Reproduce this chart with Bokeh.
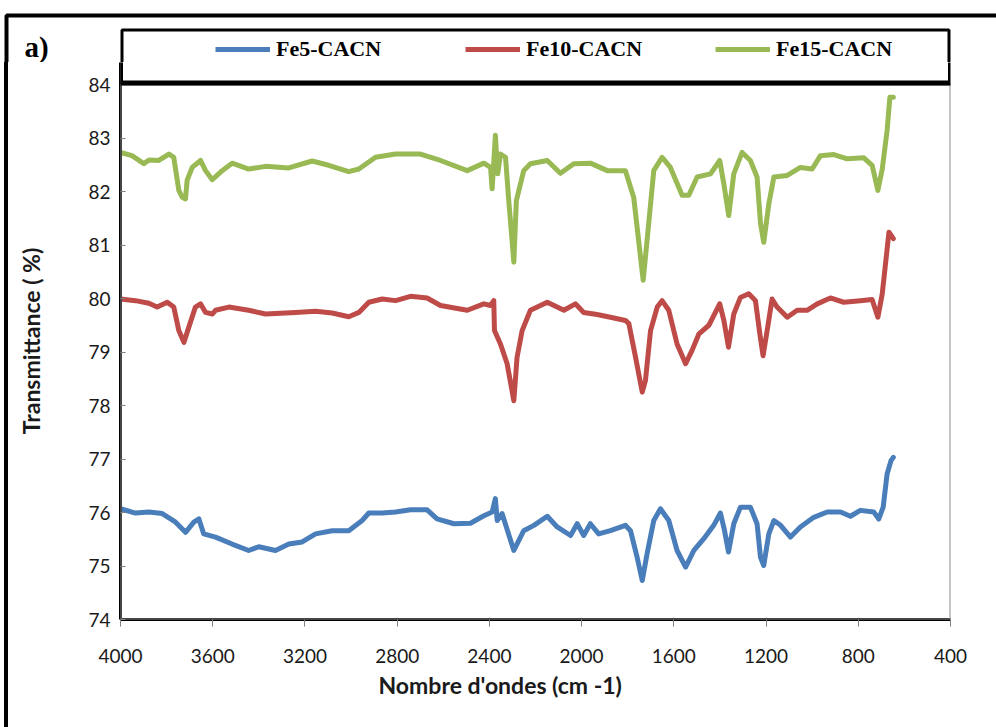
from bokeh.plotting import figure
from bokeh.layouts import column, row
from bokeh.models import (Legend, LegendItem, Label, BoxAnnotation, FixedTicker, Range1d,
                          Title, Spacer)
from bokeh.embed import file_html
from bokeh.resources import INLINE

# FTIR transmittance spectra (wavenumber in cm-1, transmittance in %)
wn_fe5 = [4000, 3935, 3877, 3819, 3761, 3718, 3682, 3660, 3639, 3588, 3516, 3444, 3400,
          3328, 3270, 3212, 3154, 3082, 3010, 2952, 2923, 2865, 2807, 2742, 2670, 2627,
          2554, 2482, 2424, 2388, 2374, 2366, 2345, 2294, 2251, 2207, 2149, 2106, 2048,
          2019, 1991, 1962, 1926, 1875, 1810, 1788, 1759, 1737, 1716, 1687, 1658, 1622,
          1586, 1549, 1513, 1470, 1427, 1398, 1380, 1363, 1340, 1311, 1268, 1239, 1224,
          1210, 1188, 1166, 1137, 1094, 1051, 993, 935, 877, 834, 791, 733, 711, 692,
          675, 658, 648]
t_fe5 = [76.07, 75.99, 76.01, 75.98, 75.82, 75.63, 75.82, 75.88, 75.60, 75.54, 75.41,
         75.29, 75.36, 75.29, 75.41, 75.45, 75.60, 75.66, 75.66, 75.85, 75.99, 75.99,
         76.01, 76.05, 76.05, 75.88, 75.79, 75.80, 75.94, 76.01, 76.26, 75.85, 75.98,
         75.29, 75.66, 75.76, 75.93, 75.73, 75.57, 75.79, 75.57, 75.79, 75.60, 75.66,
         75.76, 75.66, 75.16, 74.73, 75.23, 75.85, 76.07, 75.85, 75.29, 74.98, 75.29,
         75.51, 75.76, 75.99, 75.66, 75.26, 75.79, 76.10, 76.10, 75.79, 75.16, 75.01,
         75.60, 75.85, 75.76, 75.54, 75.73, 75.91, 76.01, 76.01, 75.93, 76.04, 76.01,
         75.88, 76.10, 76.72, 76.97, 77.03]

wn_fe10 = [4000, 3935, 3877, 3841, 3797, 3769, 3747, 3725, 3704, 3675, 3653, 3631, 3602,
           3588, 3530, 3444, 3371, 3241, 3154, 3082, 3010, 2966, 2923, 2865, 2807, 2742,
           2670, 2612, 2496, 2424, 2395, 2381, 2378, 2352, 2323, 2294, 2280, 2258, 2222,
           2149, 2077, 2027, 1991, 1933, 1875, 1810, 1795, 1766, 1737, 1723, 1701, 1672,
           1651, 1622, 1586, 1549, 1521, 1491, 1448, 1401, 1383, 1363, 1340, 1311, 1275,
           1246, 1227, 1213, 1193, 1174, 1152, 1108, 1065, 1022, 978, 921, 863, 791, 740,
           715, 696, 677, 667, 648]
t_fe10 = [79.99, 79.96, 79.91, 79.84, 79.93, 79.84, 79.40, 79.18, 79.46, 79.84, 79.90,
          79.74, 79.71, 79.78, 79.84, 79.78, 79.71, 79.74, 79.76, 79.73, 79.66, 79.74,
          79.93, 79.99, 79.96, 80.04, 80.01, 79.87, 79.78, 79.90, 79.87, 79.96, 79.40,
          79.15, 78.78, 78.09, 78.90, 79.40, 79.78, 79.93, 79.78, 79.90, 79.74, 79.70,
          79.65, 79.59, 79.53, 78.90, 78.25, 78.47, 79.40, 79.84, 79.96, 79.78, 79.15,
          78.78, 79.03, 79.34, 79.50, 79.90, 79.59, 79.09, 79.71, 80.02, 80.09, 79.96,
          79.34, 78.93, 79.46, 79.99, 79.84, 79.65, 79.78, 79.78, 79.90, 80.01, 79.93,
          79.96, 79.98, 79.65, 80.09, 80.84, 81.24, 81.12]

wn_fe15 = [4000, 3950, 3899, 3877, 3834, 3790, 3769, 3747, 3732, 3718, 3711, 3689, 3653,
           3631, 3602, 3559, 3516, 3444, 3371, 3270, 3169, 3097, 3010, 2966, 2894, 2807,
           2699, 2612, 2496, 2424, 2395, 2388, 2374, 2364, 2352, 2330, 2316, 2294, 2283,
           2251, 2222, 2149, 2092, 2034, 1962, 1889, 1810, 1774, 1733, 1709, 1687, 1651,
           1615, 1564, 1535, 1499, 1441, 1401, 1383, 1362, 1340, 1304, 1268, 1239, 1224,
           1210, 1188, 1166, 1108, 1051, 1000, 964, 906, 848, 776, 740, 715, 696, 675,
           663, 648]
t_fe15 = [82.73, 82.67, 82.52, 82.59, 82.58, 82.70, 82.64, 82.02, 81.89, 81.86, 82.21,
          82.45, 82.58, 82.39, 82.22, 82.39, 82.53, 82.42, 82.47, 82.44, 82.57, 82.49,
          82.37, 82.42, 82.64, 82.70, 82.70, 82.58, 82.39, 82.53, 82.45, 82.05, 83.05,
          82.33, 82.70, 82.64, 81.83, 80.68, 81.83, 82.39, 82.52, 82.58, 82.34, 82.52,
          82.53, 82.39, 82.39, 81.89, 80.34, 81.40, 82.39, 82.64, 82.45, 81.93, 81.93,
          82.27, 82.33, 82.58, 82.14, 81.55, 82.33, 82.73, 82.58, 82.27, 81.40, 81.05,
          81.77, 82.27, 82.30, 82.45, 82.42, 82.67, 82.69, 82.61, 82.63, 82.49, 82.02,
          82.42, 83.14, 83.76, 83.76]

series_names = ["Fe5-CACN", "Fe10-CACN", "Fe15-CACN"]
series_colors = ["#4A7EBB", "#BE4B48", "#98B954"]

x_ticks = [4000, 3600, 3200, 2800, 2400, 2000, 1600, 1200, 800, 400]
y_ticks = [74, 75, 76, 77, 78, 79, 80, 81, 82, 83, 84]

TICK_FONT = "Lato"
TITLE_FONT = "Lato"
SERIF = "Liberation Serif"
LINE_W = 5

# page geometry (pixels)
PAGE_W, PAGE_H = 996, 727
HEADER_H = 62                      # band holding the panel tag and the key
FRAME_LEFT, FRAME_RIGHT = 120, 950
FRAME_BOTTOM = 619
BAR_X0, BAR_X1 = 4, 8              # left rule of the panel border
RULE_Y = 15                        # centre of the top rule of the panel border
Y_MIN, Y_MAX = 74, 84
PX_PER_UNIT = (FRAME_BOTTOM - 84) / (Y_MAX - Y_MIN)       # 84 % sits at y=84 px
Y_TOP = Y_MIN + (FRAME_BOTTOM - HEADER_H) / PX_PER_UNIT   # frame runs up to the header


def box(**kw):
    base = dict(fill_alpha=1, line_alpha=1)
    base.update(kw)
    return BoxAnnotation(**base)


# ---- header band: border rules, panel tag, key -------------------------------
header = figure(width=PAGE_W, height=HEADER_H, output_backend="svg", toolbar_location=None,
                x_range=Range1d(0, PAGE_W), y_range=Range1d(HEADER_H, 0),
                x_axis_type=None, y_axis_type=None, min_border=0)
header.outline_line_color = None
header.background_fill_color = "white"
header.border_fill_color = "white"

# panel border: only its top and left sides fall inside the page
header.add_layout(box(left=(BAR_X0 + BAR_X1) / 2, right=PAGE_W * 2, top=RULE_Y,
                      bottom=HEADER_H * 3, fill_alpha=0,
                      line_color="black", line_width=BAR_X1 - BAR_X0))
header.add_layout(box(left=FRAME_LEFT + 1.5, right=FRAME_RIGHT - 1.5, top=29.5,
                      bottom=HEADER_H + 20, fill_color="white",
                      line_color="black", line_width=3))
header.add_layout(Label(x=24, y=46, text="a)", text_font=SERIF, text_font_style="bold",
                        text_font_size="29px", text_color="black",
                        text_align="left", text_baseline="middle"))

key_glyphs = [header.line([float("nan")], [float("nan")], line_color=c, line_width=LINE_W)
              for c in series_colors]
legend = Legend(items=[LegendItem(label=n, renderers=[r]) for n, r in zip(series_names, key_glyphs)],
                orientation="horizontal", location=(215, 0),
                border_line_alpha=0, background_fill_alpha=0,
                padding=0, margin=0, spacing=69,
                glyph_width=55, glyph_height=22, label_height=22, label_width=120,
                label_standoff=6, label_text_font=SERIF, label_text_font_style="bold",
                label_text_font_size="22px", label_text_color="black")
header.add_layout(legend, "center")

# ---- main chart ---------------------------------------------------------------
chart_w = PAGE_W - BAR_X1
chart_h = PAGE_H - HEADER_H
p = figure(width=chart_w, height=chart_h, output_backend="svg", toolbar_location=None,
           x_range=Range1d(4000, 400), y_range=Range1d(Y_MIN, Y_TOP),
           min_border_left=FRAME_LEFT - BAR_X1, min_border_right=PAGE_W - FRAME_RIGHT,
           min_border_top=0, min_border_bottom=PAGE_H - FRAME_BOTTOM)
p.background_fill_color = "white"
p.border_fill_color = "white"
p.outline_line_color = None
p.xgrid.grid_line_color = None
p.ygrid.grid_line_color = None

p.xaxis.ticker = FixedTicker(ticks=x_ticks)
p.yaxis.ticker = FixedTicker(ticks=y_ticks)
for ax in (p.xaxis[0], p.yaxis[0]):
    ax.axis_line_color = "black"
    ax.axis_line_width = 3
    ax.major_tick_line_color = "#7f7f7f"
    ax.major_tick_line_width = 1
    ax.minor_tick_line_color = None
    ax.major_label_text_font = TICK_FONT
    ax.major_label_text_font_size = "19px"
    ax.major_label_text_color = "#1a1a1a"
p.xaxis.major_tick_out = 7
p.xaxis.major_tick_in = 0
p.xaxis.major_label_standoff = 22
p.yaxis.major_tick_out = 0
p.yaxis.major_tick_in = 5
p.yaxis.major_label_standoff = 10

p.yaxis.axis_label = "Transmittance ( %)"
p.yaxis.axis_label_text_font = TITLE_FONT
p.yaxis.axis_label_text_font_style = "bold"
p.yaxis.axis_label_text_font_size = "23px"
p.yaxis.axis_label_text_color = "#1a1a1a"
p.yaxis.axis_label_standoff = 40

# plot-area border (grey right edge)
p.add_layout(box(left=4000, right=400, bottom=Y_MIN, top=Y_MAX, fill_alpha=0,
                 line_color="#8c8c8c", line_width=2))

# lower part of the key box, closing on top of the plot area
key_bottom = Y_MAX + 1.5 / PX_PER_UNIT
p.add_layout(box(left=4000, right=400, bottom=key_bottom, top=Y_TOP + 1,
                 fill_color="white", line_color="black", line_width=5))

# spectra
for wn, t, color in ((wn_fe5, t_fe5, series_colors[0]),
                     (wn_fe10, t_fe10, series_colors[1]),
                     (wn_fe15, t_fe15, series_colors[2])):
    p.line(wn, t, line_color=color, line_width=LINE_W, line_join="round", line_cap="round")

# x-axis title
p.add_layout(Title(text="Nombre d'ondes (cm -1)", align="left", offset=378 - FRAME_LEFT,
                   text_font=TITLE_FONT, text_font_style="bold", text_font_size="23px",
                   text_color="#1a1a1a", standoff=6), "below")

# left rule of the panel border next to the chart
gap = Spacer(width=BAR_X0, height=chart_h)
bar = Spacer(width=BAR_X1 - BAR_X0, height=chart_h, styles={"background-color": "black"})

layout = column(header, row(gap, bar, p, spacing=0), spacing=0)

open("out.html", "w").write(file_html(layout, INLINE))
